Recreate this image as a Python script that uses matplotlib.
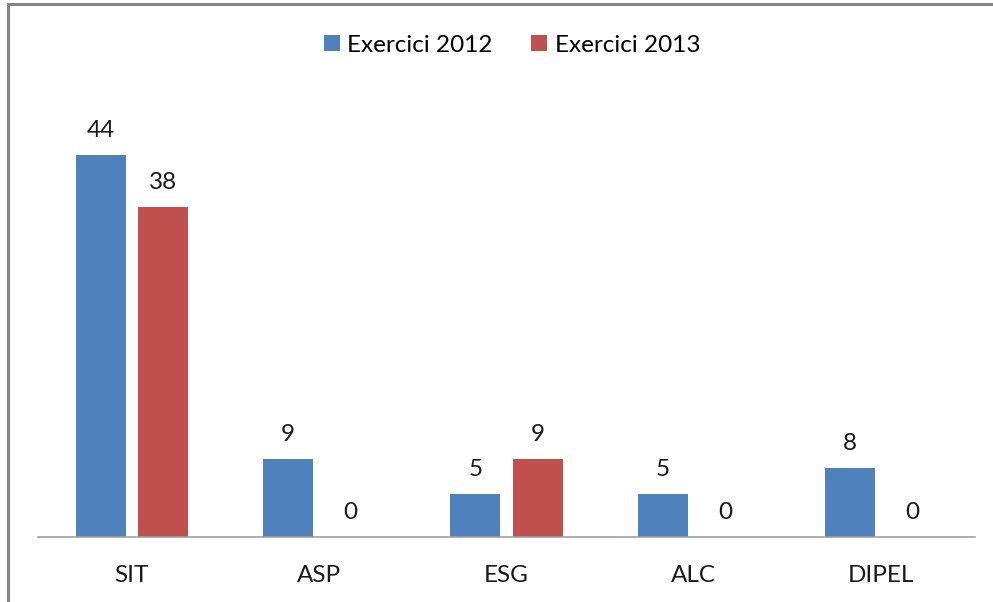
import matplotlib.pyplot as plt
import numpy as np
from matplotlib.patches import Rectangle

categories = ['SIT', 'ASP', 'ESG', 'ALC', 'DIPEL']
exercici_2012 = [44, 9, 5, 5, 8]
exercici_2013 = [38, 0, 9, 0, 0]
series_names = ['Exercici 2012', 'Exercici 2013']

plt.rcParams['font.family'] = ['Lato', 'DejaVu Sans']

fig = plt.figure(figsize=(9.93, 6.02), dpi=100)
ax = fig.add_axes([38 / 993, 1 - 537 / 602, (975 - 38) / 993, (537 - 103) / 602])

x = np.arange(len(categories))
w = 0.267
off = 0.166
b1 = ax.bar(x - off, exercici_2012, w, color='#4F81BD', label=series_names[0])
b2 = ax.bar(x + off, exercici_2013, w, color='#C0504D', label=series_names[1])

for bars in (b1, b2):
    for rect in bars:
        h = rect.get_height()
        ax.annotate(f'{h:g}', (rect.get_x() + rect.get_width() / 2, h),
                    xytext=(0, 10), textcoords='offset points',
                    ha='center', va='bottom', fontsize=17.5, color='#1a1a1a')

ax.set_xlim(-0.5, len(categories) - 0.5)
ax.set_ylim(0, 50)
ax.set_xticks(x)
ax.set_xticklabels(categories, fontsize=17.5, color='#1a1a1a')
ax.tick_params(axis='x', length=0, pad=20)
ax.set_yticks([])
for s in ['top', 'right', 'left']:
    ax.spines[s].set_visible(False)
ax.spines['bottom'].set_color('#a0a0a0')
ax.spines['bottom'].set_linewidth(1.2)

fig.legend(loc='center', bbox_to_anchor=(512 / 993, 1 - 45 / 602), ncol=2,
           frameon=False, fontsize=17.5, handlelength=0.65, handleheight=0.65,
           handletextpad=0.3, columnspacing=1.6)

fig.patches.append(Rectangle((8 / 993, -0.1), 1.2, 1.1 - 4 / 602,
                             transform=fig.transFigure, fill=False,
                             edgecolor='#858585', linewidth=2.2))

fig.savefig('out.png', dpi=100)
